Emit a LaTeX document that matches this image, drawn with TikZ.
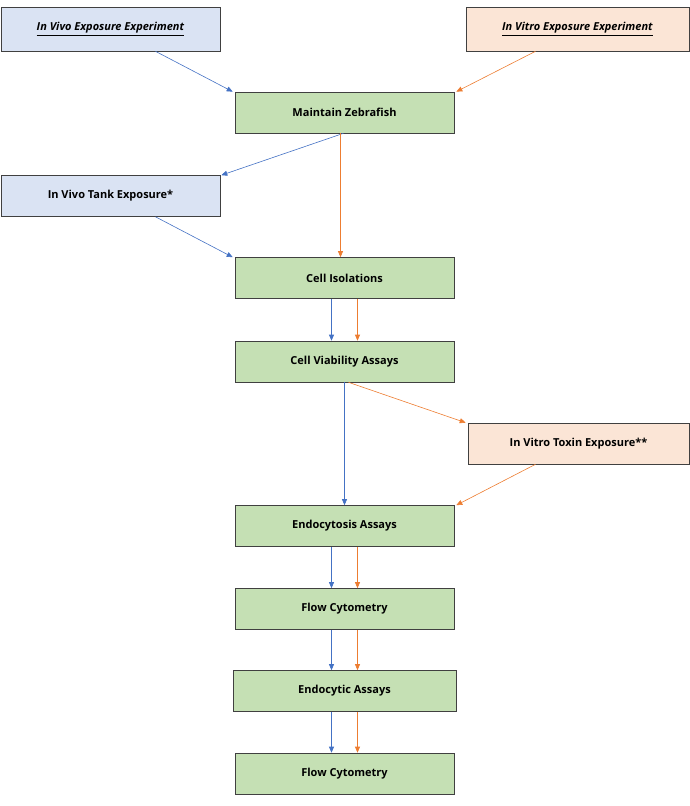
\documentclass[tikz,border=0pt]{standalone}
\usepackage{fontspec}
\setmainfont{Open Sans}
\usetikzlibrary{arrows.meta}
\definecolor{vivofill}{HTML}{DAE3F3}
\definecolor{vitrofill}{HTML}{FBE5D6}
\definecolor{stepfill}{HTML}{C5E0B4}
\definecolor{vivoline}{HTML}{4472C4}
\definecolor{vitroline}{HTML}{ED7D31}
\tikzset{
  box/.style={draw=black!75,line width=0.6pt,minimum height=41pt,inner sep=0pt,font=\bfseries\fontsize{11}{13}\selectfont},
  stepbox/.style={box,fill=stepfill,minimum width=219pt},
  vivobox/.style={box,fill=vivofill,minimum width=219pt},
  vitrobox/.style={box,fill=vitrofill,minimum width=221pt},
  vivo/.style={draw=vivoline,line width=0.6pt,-{Triangle[length=6pt,width=5pt]}},
  vitro/.style={draw=vitroline,line width=0.6pt,-{Triangle[length=6pt,width=5pt]}}
}
\begin{document}
\begin{tikzpicture}[x=1pt,y=-1pt]
  \useasboundingbox (0,0) rectangle (690,806);
  % Boxes
  \node[vivobox,minimum height=44pt] (vivoexp) at (110.5,29) {\underline{\textit{In Vivo Exposure Experiment}}};
  \node[vitrobox,minimum height=44pt,minimum width=223pt] (vitroexp) at (577.5,29) {\underline{\textit{In Vitro Exposure Experiment}}};
  \node[stepbox] (maintain) at (344.5,112.5) {Maintain Zebrafish};
  \node[vivobox] (tank) at (110.5,196) {In Vivo Tank Exposure*};
  \node[stepbox] (isolate) at (344.5,278) {Cell Isolations};
  \node[stepbox] (viable) at (344.5,361.5) {Cell Viability Assays};
  \node[vitrobox] (toxin) at (578.5,443.5) {In Vitro Toxin Exposure**};
  \node[stepbox] (endo) at (344.5,526) {Endocytosis Assays};
  \node[stepbox] (flowa) at (344.5,609) {Flow Cytometry};
  \node[stepbox,minimum width=223pt] (endoc) at (344.5,691) {Endocytic Assays};
  \node[stepbox] (flowb) at (344.5,773.5) {Flow Cytometry};
  % Connectors
  \draw[vivo] ([xshift=45pt]vivoexp.south) -- ([xshift=-2pt]maintain.north west);
  \draw[vitro] ([xshift=-42pt]vitroexp.south) -- ([xshift=2pt]maintain.north east);
  \draw[vivo] ([xshift=-1pt]maintain.south) -- ([xshift=1pt]tank.north east);
  \draw[vitro] ([xshift=-4pt]maintain.south) -- ([xshift=-4pt]isolate.north);
  \draw[vivo] ([xshift=45pt]tank.south) -- ([xshift=-2pt]isolate.north west);
  \draw[vivo] ([xshift=-13pt]isolate.south) -- ([xshift=-13pt]viable.north);
  \draw[vitro] ([xshift=13pt]isolate.south) -- ([xshift=13pt]viable.north);
  \draw[vivo] (viable.south) -- (endo.north);
  \draw[vitro] ([xshift=4pt]viable.south) -- ([xshift=-2pt]toxin.north west);
  \draw[vitro] ([xshift=-43pt]toxin.south) -- ([xshift=2pt]endo.north east);
  \draw[vivo] ([xshift=-13pt]endo.south) -- ([xshift=-13pt]flowa.north);
  \draw[vitro] ([xshift=13pt]endo.south) -- ([xshift=13pt]flowa.north);
  \draw[vivo] ([xshift=-13pt]flowa.south) -- ([xshift=-13pt]endoc.north);
  \draw[vitro] ([xshift=13pt]flowa.south) -- ([xshift=13pt]endoc.north);
  \draw[vivo] ([xshift=-13pt]endoc.south) -- ([xshift=-13pt]flowb.north);
  \draw[vitro] ([xshift=13pt]endoc.south) -- ([xshift=13pt]flowb.north);
\end{tikzpicture}
\end{document}
